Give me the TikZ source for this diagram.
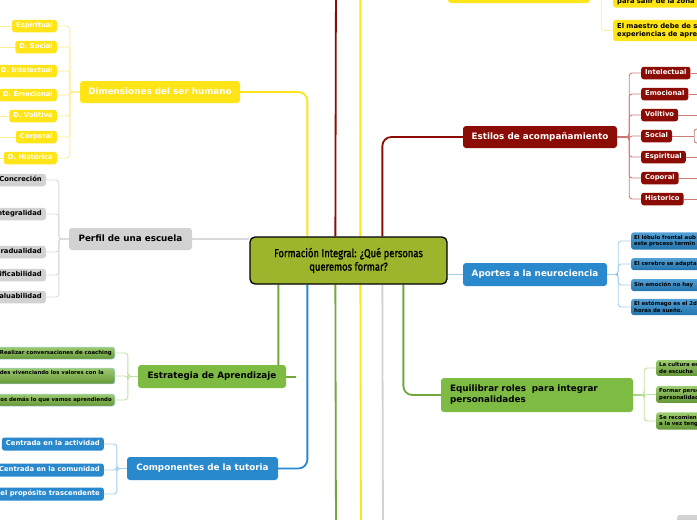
\documentclass[tikz,border=0pt]{standalone}
\usepackage{fontspec}
\setmainfont{DejaVu Sans}
\newfontfamily\condfont[FakeStretch=0.82,FakeBold=1.3]{Fira Sans}
\usetikzlibrary{calc,backgrounds}
\definecolor{cyel}{RGB}{255,228,24}
\definecolor{cyell}{RGB}{255,238,150}
\definecolor{cred}{RGB}{139,12,4}
\definecolor{credl}{RGB}{205,125,120}
\definecolor{cgrey}{RGB}{210,210,210}
\definecolor{cgreyl}{RGB}{218,218,218}
\definecolor{cgreen}{RGB}{125,187,66}
\definecolor{cgreenl}{RGB}{190,225,160}
\definecolor{cblue}{RGB}{41,137,204}
\definecolor{cbluel}{RGB}{165,208,236}
\definecolor{colive}{RGB}{157,181,45}
\begin{document}
\begin{tikzpicture}[x=1pt,y=-1pt,
  mainbox/.style={rounded corners=3pt, minimum height=22pt, inner sep=0pt,
    font=\fontsize{8.8}{10.5}\selectfont\bfseries, text height=6.5pt, text depth=1.8pt},
  mainml/.style={rounded corners=3pt, inner ysep=0pt,
    font=\fontsize{8.8}{11}\selectfont\bfseries, align=left},
  kid/.style={rounded corners=2.5pt, minimum height=12.5pt, inner xsep=4pt, inner ysep=0pt,
    font=\fontsize{6.8}{8}\selectfont\bfseries, text height=5pt, text depth=1.4pt},
  kidml/.style={rounded corners=2.5pt, inner xsep=4pt, inner ysep=3pt,
    font=\fontsize{6.8}{8.6}\selectfont\bfseries, align=left},
  tiny/.style={rounded corners=2.5pt, inner xsep=3pt, inner ysep=2.6pt,
    font=\fontsize{5.4}{6.6}\selectfont\bfseries, align=left},
  ylw/.style={fill=cyel, text=white},
  gkid/.style={top color=cgreen!75!white, bottom color=cgreen!80!black},
  bkid/.style={top color=cblue!80!white, bottom color=cblue!85!black},
  mainline/.style={line width=1.8pt, rounded corners=9pt},
  subline/.style={line width=0.9pt, rounded corners=3pt}
]
\useasboundingbox (0,0) rectangle (697,520);
\clip (0,0) rectangle (697,520);

% central node
\node[draw=black, line width=1.3pt, fill=colive, rounded corners=5pt, minimum width=197pt,
  minimum height=47pt, align=center, font=\condfont\fontsize{11.5}{13.5}\selectfont] (cn)
  at (348.5,260.5) {Formación Integral: ¿Qué personas\\queremos formar?};

% main topics
\node[mainbox, ylw, minimum width=160pt] (dim) at (160,92) {Dimensiones del ser humano};
\node[mainbox, fill=cgrey, minimum width=123pt] (per) at (130.5,239) {Perfil de una escuela};
\node[mainbox, fill=cgreen, minimum width=148pt, minimum height=23pt] (estr) at (212,376.5) {Estrategia de Aprendizaje};
\node[mainbox, fill=cblue, text=white, minimum width=151pt, minimum height=23pt] (comp) at (202.5,468.5) {Componentes de la tutoria};
\node[mainbox, fill=cred, text=white, minimum width=154pt] (est) at (540,137) {Estilos de acompañamiento};
\node[mainbox, fill=cblue, text=white, minimum width=144pt, minimum height=23pt] (apo) at (535,274.5) {Aportes a la neurociencia};
\node[mainml, fill=cgreen, minimum height=34pt, inner xsep=9pt, text width=174pt] (eq) at (537,395) {Equilibrar roles \ para integrar\\personalidades};
\node[mainbox, ylw, minimum width=142pt] (top) at (519,-8) {};
\node[fill=cgrey, rounded corners=2pt, minimum width=30pt, minimum height=12pt, anchor=north west] (corner) at (677,515) {};

% children of Dimensiones
\foreach \n/\y/\t in {d1/26/Espiritual, d2/47/D. Social, d3/71/D. Intelectual, d4/95/D. Emocional,
  d5/116/D. Volitiva, d6/137/Corporal, d7/158/D. Histórica}
  \node[kid, ylw, anchor=east] (\n) at (57,\y) {\t};
% children of Perfil
\foreach \n/\y/\t in {p1/180/Concreción, p2/214/Integralidad, p3/252/Gradualidad,
  p4/275/Modificabilidad, p5/297/Evaluabilidad}
  \node[kid, fill=cgrey, anchor=east] (\n) at (46,\y) {\t};
% children of Estrategia
\node[tiny, gkid, draw=cbluel, line width=0.5pt, minimum height=12pt, anchor=east] (e1) at (115,353) {Realizar conversaciones de coaching};
\node[tiny, gkid, draw=cbluel, line width=0.5pt, anchor=east] (e2) at (115,376) {Realizar actividades vivenciando los valores con la\hspace*{8pt}\\comunidad};
\node[tiny, gkid, draw=cbluel, line width=0.5pt, minimum height=12pt, anchor=east] (e3) at (115,400) {Compartir con los demás lo que vamos aprendiendo};
% children of Componentes
\foreach \n/\y/\t in {c1/444/Centrada en la actividad, c2/470/Centrada en la comunidad,
  c3/494/Centrada en el propósito trascendente}
  \node[kid, fill=cblue, text=white, anchor=east, minimum height=13pt] (\n) at (104,\y) {\t};
% children of Estilos
\foreach \n/\y/\t in {r1/73/Intelectual, r2/94/Emocional, r3/115/Volitivo, r4/136/Social,
  r5/157/Espiritual, r6/178/Coporal, r7/199/Historico}
  \node[kid, fill=cred, text=white, anchor=west] (\n) at (641,\y) {\t};
% children of Aportes
\node[tiny, bkid, text width=110pt, anchor=west] (a1) at (631,241) {El lóbulo frontal aub\\este proceso termin};
\node[tiny, bkid, text width=110pt, minimum height=12pt, anchor=west] (a2) at (631,264) {El cerebro se adapta};
\node[tiny, bkid, text width=110pt, minimum height=12pt, anchor=west] (a3) at (631,285) {Sin emoción no hay};
\node[tiny, bkid, text width=110pt, anchor=west] (a4) at (631,307) {El estómago es el 2do\\horas de sueño.};
% children of Equilibrar
\node[tiny, gkid, text width=100pt, anchor=west] (q1) at (656,368) {La cultura es\\de escucha};
\node[tiny, gkid, text width=100pt, anchor=west] (q2) at (656,394.5) {Formar personas\\personalidades};
\node[tiny, gkid, text width=100pt, anchor=west] (q3) at (656,421) {Se recomienda\\a la vez tengan};
% children of top node
\node[kidml, fill=cyel, text width=110pt, anchor=west] (t1) at (613,-0.5) {\mbox{}\\para salir de la zona};
\node[kidml, fill=cyel, text width=110pt, anchor=west] (t2) at (613,30.5) {El maestro debe de ser\\experiencias de aprendizaje};

\coordinate (redtop) at (336,-30);
\coordinate (gbot) at (336,540);
\coordinate (ybot) at (361,540);
\coordinate (grbot) at (383,540);
\coordinate (estrstub) at (296,377);
\coordinate (redge) at (710,0);
\coordinate (ledge) at (-20,0);

\begin{scope}[on background layer]
  % main connectors
  \draw[mainline, cyel] ([xshift=58pt]cn.north west) |- (dim.east);
  \draw[mainline, cred] ([xshift=86pt]cn.north west) -- (redtop);
  \draw[mainline, cyel] ([xshift=111pt]cn.north west) |- (top.west);
  \draw[mainline, cred] ([xshift=133pt]cn.north west) |- (est.west);
  \draw[line width=1.2pt, cgreyl] (per.east) -- (cn.west |- per.east);
  \draw[line width=1.2pt, cbluel] (cn.east |- apo.west) -- (apo.west);
  \draw[mainline, cgreen!90!black] ([xshift=29pt]cn.south west) |- (estrstub);
  \draw[mainline, cblue] ([xshift=58pt]cn.south west) |- (comp.east);
  \draw[mainline, cgreen!90!black] ([xshift=86pt]cn.south west) -- (gbot);
  \draw[mainline, cyel] ([xshift=111pt]cn.south west) -- (ybot);
  \draw[mainline, cgrey] ([xshift=133pt]cn.south west) -- (grbot);
  \draw[mainline, cgreen!90!black] ([xshift=154pt]cn.south west) |- (eq.west);

  % sub connectors
  \foreach \c in {d1,d2,d3,d4,d5,d6,d7} {
    \draw[subline, cyell] (dim.west) -- ++(-10,0) |- (\c.east);
    \draw[subline, cyell] (\c.west) -- (\c.west -| ledge);
  }
  \foreach \c in {p1,p2,p3,p4,p5}
    \draw[subline, cgreyl] (per.west) -- ++(-10,0) |- (\c.east);
  \foreach \c in {e1,e2,e3}
    \draw[subline, cgreenl] (estr.west) -- ++(-10,0) |- (\c.east);
  \foreach \c in {c1,c2,c3}
    \draw[subline, cbluel] (comp.west) -- ++(-10,0) |- (\c.east);
  \draw[line width=1.6pt, cred] (est.east) -- ++(12,0);
  \foreach \c in {r1,r2,r3,r5,r6,r7} {
    \draw[subline, credl] (est.east) -- ++(12,0) |- (\c.west);
    \draw[subline, credl] (\c.east) -- (\c.east -| redge);
  }
  \draw[subline, credl] (est.east) -- ++(12,0) |- (r4.west);
  \draw[subline, credl] (r4.east) -- ++(22,0) coordinate (sb);
  \draw[subline, credl, rounded corners=2.5pt] ([shift={(6,-7)}]sb) -- ([shift={(0,-7)}]sb) -- ([shift={(0,7)}]sb) -- ([shift={(6,7)}]sb);
  \draw[line width=1.4pt, cblue] (apo.east) -- ++(11,0);
  \foreach \c in {a1,a2,a3,a4}
    \draw[subline, cbluel] (apo.east) -- ++(11,0) |- (\c.west);
  \draw[line width=1.4pt, cgreen] (eq.east) -- ++(11,0);
  \foreach \c in {q1,q2,q3}
    \draw[subline, cgreenl] (eq.east) -- ++(11,0) |- (\c.west);
  \foreach \c in {t1,t2}
    \draw[subline, cyell] (top.east) -- ++(11,0) |- (\c.west);
\end{scope}
\end{tikzpicture}
\end{document}
